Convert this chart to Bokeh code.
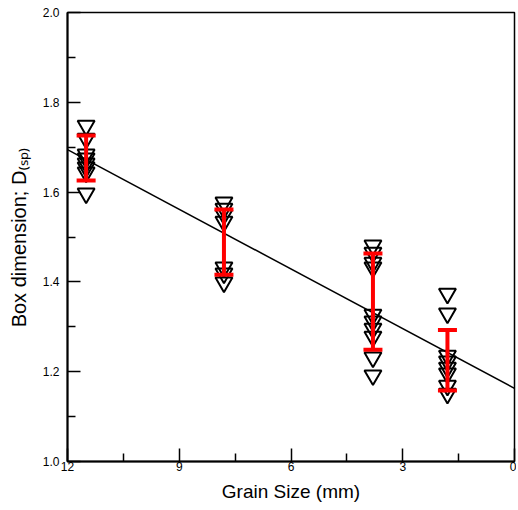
from bokeh.plotting import figure
from bokeh.models import Range1d, FixedTicker, PrintfTickFormatter
from bokeh.embed import file_html
from bokeh.resources import INLINE

# ---- data ----
grain_sizes = [11.5, 7.8, 3.8, 1.8]
dsp_11_5 = [1.748, 1.719, 1.684, 1.675, 1.664, 1.655, 1.644, 1.597]
dsp_7_8 = [1.577, 1.563, 1.550, 1.534, 1.432, 1.419, 1.399]
dsp_3_8 = [1.481, 1.465, 1.443, 1.432, 1.327, 1.312, 1.296, 1.278, 1.232, 1.192]
dsp_1_8 = [1.374, 1.330, 1.236, 1.223, 1.209, 1.196, 1.169, 1.151]
err_upper = [1.726, 1.561, 1.463, 1.293]
err_lower = [1.626, 1.416, 1.249, 1.158]
fit_intercept = 1.163
fit_slope = 0.0443
x_ticks = [0, 3, 6, 9, 12]
x_minor_ticks = [1.5, 4.5, 7.5, 10.5]
y_ticks = [1.0, 1.2, 1.4, 1.6, 1.8, 2.0]
y_minor_ticks = [1.1, 1.3, 1.5, 1.7, 1.9]

FONT = "Liberation Sans"

p = figure(width=516, height=508, x_range=Range1d(12, 0), y_range=Range1d(1.0, 2.0),
           output_backend="svg", toolbar_location=None,
           min_border_left=67, min_border_right=2, min_border_top=12, min_border_bottom=47)
p.grid.visible = False
p.outline_line_color = "black"
p.outline_line_width = 1.5
p.background_fill_color = "white"
p.border_fill_color = "white"

for ax in (p.xaxis[0], p.yaxis[0]):
    ax.axis_line_width = 2
    ax.axis_line_color = "black"
    ax.major_tick_in = 13
    ax.major_tick_out = 0
    ax.minor_tick_in = 8
    ax.minor_tick_out = 0
    ax.major_tick_line_width = 1.5
    ax.minor_tick_line_width = 1.5
    ax.major_tick_line_color = "black"
    ax.minor_tick_line_color = "black"
    ax.major_label_text_font = FONT
    ax.major_label_text_font_size = "12px"
    ax.major_label_text_color = "black"
    ax.axis_label_text_font = FONT
    ax.axis_label_text_font_style = "normal"
    ax.axis_label_text_color = "black"

p.xaxis.ticker = FixedTicker(ticks=x_ticks, minor_ticks=x_minor_ticks)
p.yaxis.ticker = FixedTicker(ticks=y_ticks, minor_ticks=y_minor_ticks)
p.yaxis.formatter = PrintfTickFormatter(format="%.1f")
p.xaxis.major_label_standoff = 0
p.yaxis.major_label_standoff = 8

p.xaxis.axis_label = "Grain Size (mm)"
p.xaxis.axis_label_text_font_size = "19px"
p.xaxis.axis_label_standoff = 7
p.yaxis.axis_label = "Box dimension; D\u208d\u209b\u209a\u208e"
p.yaxis.axis_label_text_font_size = "20px"
p.yaxis.axis_label_standoff = 10

# markers
groups = [dsp_11_5, dsp_7_8, dsp_3_8, dsp_1_8]
xs, ys = [], []
for gx, vals in zip(grain_sizes, groups):
    xs += [gx] * len(vals)
    ys += vals
p.scatter(xs, ys, marker="inverted_triangle", size=17, line_color="black",
          line_width=2, fill_color=None)

# regression line
x_line = [12, 0]
y_line = [fit_intercept + fit_slope * v for v in x_line]
p.line(x_line, y_line, line_color="black", line_width=1.5)

# error bars
p.segment(x0=grain_sizes, y0=err_lower, x1=grain_sizes, y1=err_upper,
          line_color="red", line_width=4)
p.scatter(grain_sizes, err_upper, marker="dash", size=19, line_color="red", line_width=4)
p.scatter(grain_sizes, err_lower, marker="dash", size=19, line_color="red", line_width=4)

open("out.html", "w").write(file_html(p, INLINE))
